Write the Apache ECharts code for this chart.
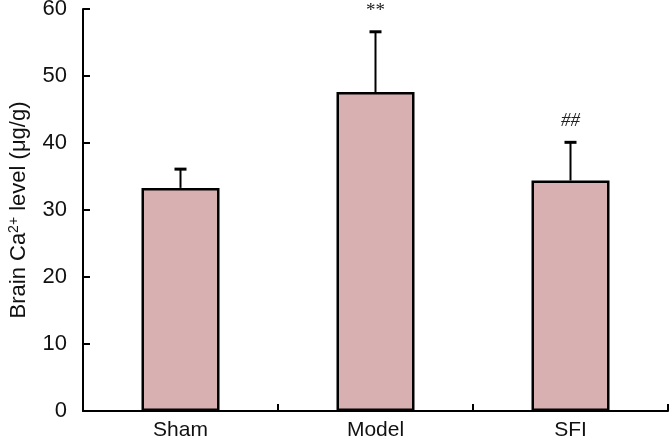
<!DOCTYPE html>
<html>
<head>
<meta charset="utf-8">
<script src="https://cdn.jsdelivr.net/npm/echarts@6/dist/echarts.min.js"></script>
<style>
  html, body { margin: 0; padding: 0; background: #fff; }
  #chart { width: 672px; height: 443px; }
</style>
</head>
<body>
<div id="chart"></div>
<script>
// data
const groups = ['Sham', 'Model', 'SFI'];
const means = [33.3, 47.6, 34.4];
const errUpper = [36.1, 56.6, 40.1];
const marks = ['', '**', '##'];
const yTicks = [0, 10, 20, 30, 40, 50, 60];

const barColor = '#d9b0b1';
const font = 'Liberation Sans, Arial, sans-serif';

const chart = echarts.init(document.getElementById('chart'));

const option = {
    animation: false,
    backgroundColor: '#fff',
    grid: { left: 83, right: 4, top: 9, bottom: 32, outerBoundsMode: 'none' },
    xAxis: {
        type: 'category',
        data: groups,
        axisLine: { lineStyle: { color: '#000', width: 2 } },
        axisTick: { show: true, inside: true, length: 7, lineStyle: { color: '#000', width: 2 } },
        axisLabel: { color: '#111', fontSize: 21, fontFamily: font, margin: 9 }
    },
    yAxis: {
        type: 'value',
        min: yTicks[0],
        max: yTicks[yTicks.length - 1],
        interval: 10,
        splitLine: { show: false },
        axisLine: { show: true, lineStyle: { color: '#000', width: 2 } },
        axisTick: { show: true, inside: true, length: 7, lineStyle: { color: '#000', width: 2 } },
        axisLabel: { color: '#111', fontSize: 22, fontFamily: font, margin: 16 },
        name: '{a|Brain Ca}{sup|2+}{a| level (μg/g)}',
        nameLocation: 'middle',
        nameGap: 52,
        nameTextStyle: {
            rich: {
                a: { fontSize: 22, fontFamily: font, color: '#111' },
                sup: { fontSize: 14, fontFamily: font, color: '#111', verticalAlign: 'top', padding: [0, 0, 10, 0] }
            }
        }
    },
    series: [
        {
            type: 'bar',
            data: means,
            barWidth: '40%',
            itemStyle: { color: barColor, borderColor: '#000', borderWidth: 2.5 },
            z: 2
        },
        {
            type: 'custom',
            data: groups.map((g, i) => [i, means[i], errUpper[i], marks[i]]),
            renderItem: (params, api) => {
                const base = api.coord([api.value(0), api.value(1)]);
                const top = api.coord([api.value(0), api.value(2)]);
                const x = base[0];
                const children = [
                    { type: 'line', shape: { x1: x, y1: base[1], x2: x, y2: top[1] },
                      style: { stroke: '#000', lineWidth: 2 } },
                    { type: 'line', shape: { x1: x - 6, y1: top[1], x2: x + 6, y2: top[1] },
                      style: { stroke: '#000', lineWidth: 3 } }
                ];
                const mark = marks[params.dataIndex];
                if (mark) {
                    children.push({
                        type: 'text',
                        style: {
                            text: mark, x: x, y: top[1] - 21,
                            align: 'center', verticalAlign: 'middle',
                            font: (mark === '##' ? 'italic ' : '') + '19px Liberation Serif, serif', fill: '#222'
                        }
                    });
                }
                return { type: 'group', children: children };
            },
            z: 3
        }
    ]
};

chart.setOption(option);
</script>
</body>
</html>
